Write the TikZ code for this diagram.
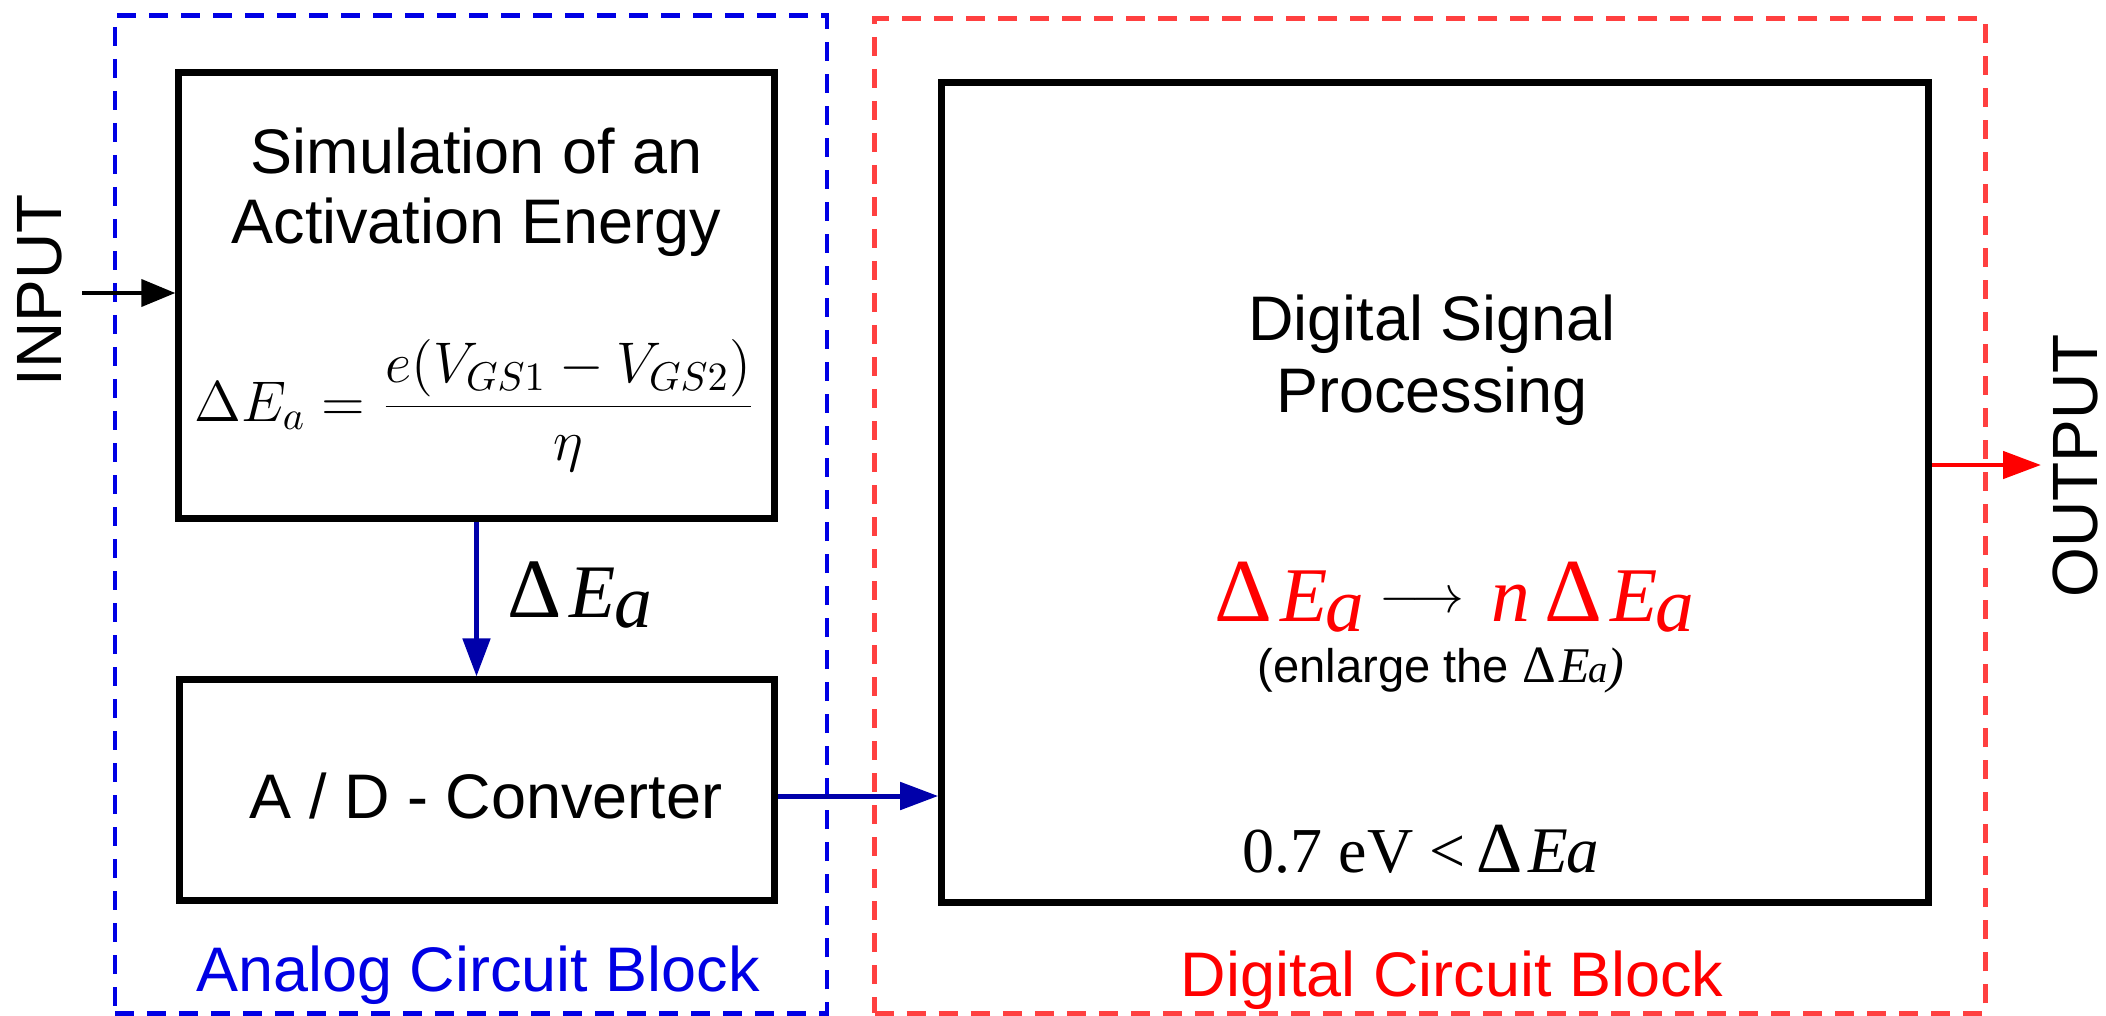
\documentclass[tikz,border=0pt]{standalone}
\usepackage{fix-cm}
\usepackage[no-math]{fontspec}
\setmainfont{Liberation Sans}
\newfontfamily\tms{Liberation Serif}
\usetikzlibrary{arrows.meta}

\definecolor{anablue}{RGB}{0,0,228}
\definecolor{digred}{RGB}{255,64,64}
\definecolor{sigblue}{RGB}{0,0,170}
\definecolor{outred}{RGB}{255,0,0}

\newcommand\fs[1]{\fontsize{#1}{#1}\selectfont}
% Delta E_a set in Liberation Serif:
% #1 size of Delta, #2 size of E, #3 size of a, #4 gap after Delta, #5 drop of a
\newcommand\dEa[5]{{\tms\upshape\fs{#1}Δ}\kern#4{\tms\itshape\fs{#2}E}\kern-0.02cm\raisebox{-#5}{\tms\itshape\fs{#3}a}}

\begin{document}
\begin{tikzpicture}[x=0.01cm,y=-0.01cm,
  box/.style={draw=black,line width=0.07cm,inner sep=0pt},
  region/.style={draw,line width=0.045cm,dash pattern=on 0.19cm off 0.13cm,inner sep=0pt},
  sig/.style={sigblue,line width=0.05cm,-{Triangle[length=0.38cm,width=0.27cm]}},
  lbl/.style={inner sep=0pt,anchor=base,font=\fs{17.9}},
]
\useasboundingbox (0,0) rectangle (2106,1015);

% circuit blocks
\node[region,anablue,minimum width=7.12cm,minimum height=9.97cm] (analog) at (471,514.5) {};
\node[region,digred,minimum width=11.10cm,minimum height=9.94cm] (digital) at (1430,516) {};

% functional boxes
\node[box,minimum width=5.95cm,minimum height=4.46cm] (sim) at (476.5,295.5) {};
\node[box,minimum width=5.94cm,minimum height=2.2cm] (adc) at (477,790) {};
\node[box,minimum width=9.86cm,minimum height=8.19cm] (dsp) at (1435,492.5) {};

% box texts
\node[lbl] (simA) at (476.5,173) {Simulation of an};
\node[lbl] (simB) at (476.5,243) {Activation Energy};
\node[lbl] (eq) at (475,421) {\fs{16.3}$\displaystyle \Delta E_a = \frac{e(V_{GS1}-V_{GS2})}{\eta}$};
\node[lbl] (adct) at (486,818) {A / D - Converter};
\node[lbl] (dspA) at (1432,340) {Digital Signal};
\node[lbl] (dspB) at (1432,412) {Processing};

\node[lbl,anchor=base west,text=outred] (rule) at (1214,621)
  {\dEa{25.6}{22}{22}{0.08cm}{0.1cm}\hspace{0.15cm}\raisebox{0.09cm}{\color{black}\fs{15}$\longrightarrow$}\hspace{0.27cm}{\tms\itshape\fs{22}n}\hspace{0.14cm}\dEa{25.6}{22}{22}{0.08cm}{0.1cm}};
\node[lbl,anchor=base west] (enl) at (1257,682)
  {\fs{13.4}(enlarge the \dEa{14.9}{14.2}{11}{0.04cm}{0cm}{\tms\itshape\fs{14.2})}};
\node[lbl,anchor=base west] (thr) at (1242,872)
  {\tms\fs{18.2}0.7 eV <\,\dEa{20.4}{18.5}{18.5}{0.06cm}{0cm}};

% block captions
\node[lbl,text=anablue] (analbl) at (478,991) {Analog Circuit Block};
\node[lbl,text=outred] (diglbl) at (1452,996) {Digital Circuit Block};

% terminals
\node[font=\fs{18.2},rotate=90,inner sep=0pt] (inlbl) at (40,290) {INPUT};
\node[font=\fs{18.2},rotate=90,inner sep=0pt] (outlbl) at (2075,466) {OUTPUT};

% signal flow
\coordinate (inp) at (82,293);
\draw[line width=0.04cm,-{Triangle[length=0.34cm,width=0.27cm]}] (inp) -- (inp -| sim.west);
\draw[sig] (sim.south) -- (sim.south |- adc.north);
\node[lbl,anchor=base west] (dlabel) at (507,617) {\dEa{24}{21.5}{21.5}{0.08cm}{0.1cm}};
\coordinate (adcout) at ([yshift=-0.06cm]adc.east);
\draw[sig] (adcout) -- (adcout -| dsp.west);
\coordinate (outp) at (2041,465);
\draw[outred,line width=0.047cm,-{Triangle[length=0.38cm,width=0.27cm]}] (outp -| dsp.east) -- (outp);
\end{tikzpicture}
\end{document}
